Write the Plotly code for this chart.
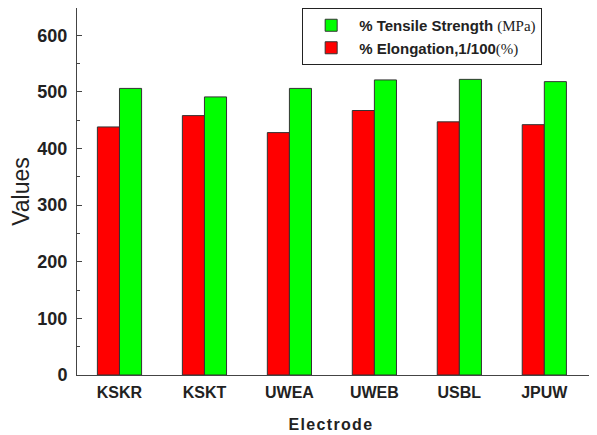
import plotly.graph_objects as go

categories = ["KSKR", "KSKT", "UWEA", "UWEB", "USBL", "JPUW"]
elongation = [438, 458, 428, 467, 447, 442]
tensile = [506, 491, 506, 521, 522, 518]

fig = go.Figure()
fig.add_trace(go.Bar(
    x=categories, y=elongation,
    name="<b>% Elongation,1/100</b><span style='font-family:Liberation Serif'>(%)</span>",
    marker=dict(color="#ff0000", line=dict(color="#333333", width=1)),
))
fig.add_trace(go.Bar(
    x=categories, y=tensile,
    name="<b>% Tensile Strength</b> <span style='font-family:Liberation Serif'>(MPa)</span>",
    marker=dict(color="#00ff00", line=dict(color="#333333", width=1)),
))

# page body has an 8px default margin; figure sized to compensate
fig.update_layout(
    width=589, height=427,
    margin=dict(l=69, r=0, t=0, b=60),
    paper_bgcolor="white", plot_bgcolor="white",
    barmode="group", bargap=0.48, bargroupgap=0,
    font=dict(family="Liberation Sans", color="#222222"),
    legend=dict(
        x=0.433, y=1.0, xanchor="left", yanchor="top",
        traceorder="reversed",
        bgcolor="white", bordercolor="#222222", borderwidth=1,
        font=dict(size=15, family="Liberation Sans", color="#222222"),
        itemwidth=46, tracegroupgap=0,
    ),
    showlegend=True,
)
fig.update_xaxes(
    range=[-0.5, 5.62],
    showline=True, linecolor="#444444", linewidth=1, mirror=True,
    ticks="", ticklabelstandoff=3,
    tickfont=dict(size=16, family="Liberation Sans", weight="bold"),
    title=dict(text="<b>E\u200al\u200ae\u200ac\u200at\u200ar\u200ao\u200ad\u200ae</b>&nbsp;&nbsp;&nbsp;",
               font=dict(size=16), standoff=18),
    automargin=False,
)
fig.update_yaxes(
    range=[0, 648], tickvals=[0, 100, 200, 300, 400, 500, 600],
    showline=True, linecolor="#444444", linewidth=1, mirror=False,
    showgrid=False, zeroline=False,
    ticks="inside", ticklen=5, tickcolor="#444444",
    minor=dict(dtick=50, ticks="inside", ticklen=3, tickcolor="#444444", showgrid=False),
    ticklabelstandoff=5,
    tickfont=dict(size=18, family="Liberation Sans", weight="bold"),
    title=dict(text="Values", font=dict(size=23, family="Liberation Sans"), standoff=6),
    automargin=False,
)

fig.write_html("out.html")
